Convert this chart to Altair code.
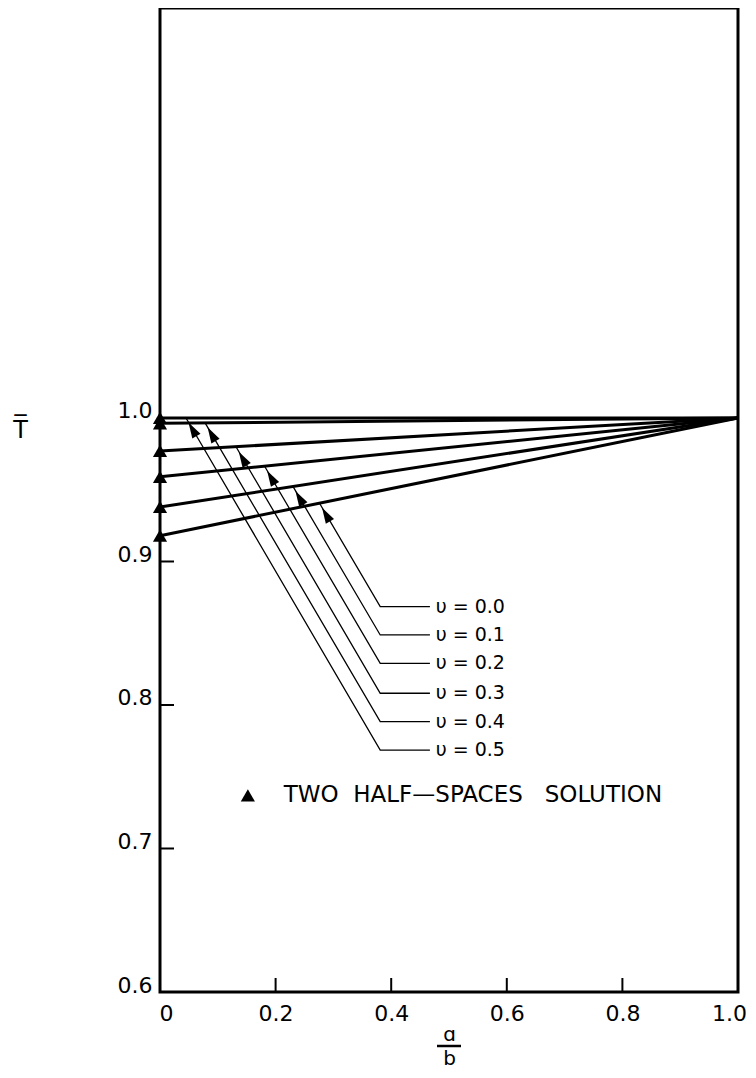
import altair as alt
import pandas as pd

# ---- data ----
nu_labels = ["υ = 0.0", "υ = 0.1", "υ = 0.2", "υ = 0.3", "υ = 0.4", "υ = 0.5"]
t_at_zero = [0.918, 0.938, 0.959, 0.977, 0.9963, 1.000]   # T at a/b = 0
t_at_one = [1.0, 1.0, 1.0, 1.0, 1.0, 1.0]                 # T at a/b = 1
ab_ends = [0.0, 1.0]

# leader annotations (data coordinates)
leader_tip_ab = [0.276, 0.230, 0.181, 0.132, 0.078, 0.045]
leader_tip_t = [0.9406, 0.9523, 0.9664, 0.9796, 0.9966, 1.000]
leader_bend_ab = [0.381] * 6
leader_end_ab = [0.467] * 6
label_t = [0.8685, 0.8488, 0.829, 0.8082, 0.7884, 0.7686]
label_ab = [0.477] * 6

legend_ab = [0.152]
legend_text_ab = [0.214]
legend_t = [0.737]
legend_text = ["TWO\u00a0\u00a0HALF\u2014SPACES\u00a0\u00a0\u00a0SOLUTION"]

x_ticks = [0.0, 0.2, 0.4, 0.6, 0.8, 1.0]
y_ticks = [0.6, 0.7, 0.8, 0.9, 1.0]
x_inner_ticks = [0.2, 0.4, 0.6, 0.8]
y_inner_ticks = [0.7, 0.8, 0.9]

W, H = 578, 984
FONT = "DejaVu Sans"

# ---- tables ----
lines_rows = []
for i, nu in enumerate(nu_labels):
    lines_rows.append({"nu": nu, "ab": ab_ends[0], "T": t_at_zero[i], "o": 0})
    lines_rows.append({"nu": nu, "ab": ab_ends[1], "T": t_at_one[i], "o": 1})
lines_df = pd.DataFrame(lines_rows)
start_df = pd.DataFrame({"nu": nu_labels, "ab": [0.0] * 6, "T": t_at_zero})

leader_rows = []
for i, nu in enumerate(nu_labels):
    leader_rows.append({"nu": nu, "ab": leader_tip_ab[i], "T": leader_tip_t[i], "o": 0})
    leader_rows.append({"nu": nu, "ab": leader_bend_ab[i], "T": label_t[i], "o": 1})
    leader_rows.append({"nu": nu, "ab": leader_end_ab[i], "T": label_t[i], "o": 2})
leader_df = pd.DataFrame(leader_rows)
tips_df = pd.DataFrame({"nu": nu_labels, "ab": leader_tip_ab, "T": leader_tip_t})
labels_df = pd.DataFrame({"nu": nu_labels, "ab": label_ab, "T": label_t})
legend_df = pd.DataFrame({"ab": legend_ab, "abt": legend_text_ab, "T": legend_t, "txt": legend_text})
xt_df = pd.DataFrame({"ab": x_inner_ticks})
yt_df = pd.DataFrame({"T": y_inner_ticks})

xscale = alt.Scale(domain=[0, 1], nice=False, zero=False)
yscale = alt.Scale(domain=[0.6, 1.2857], nice=False, zero=False)

xaxis = alt.Axis(
    values=x_ticks, labelExpr="datum.value == 0 ? '0' : format(datum.value, '.1f')",
    ticks=False, domain=False, grid=False, labelFont=FONT, labelFontSize=22,
    labelColor="black", labelPadding=11, labelFlush=False, labelOverlap=False,
    labelOffset={"condition": [{"test": "datum.value == 0", "value": 6},
                               {"test": "datum.value == 1", "value": -9}],
                 "value": 0},
    title=["\u0251", "b"], titleFont=FONT, titleFontSize=20,
    titleFontWeight="normal", titleColor="black", titleLineHeight=24,
    titlePadding=0,
)
yaxis = alt.Axis(
    values=y_ticks, format=".1f", ticks=False, domain=False, grid=False,
    labelFont=FONT, labelFontSize=22, labelColor="black", labelPadding=8,
    labelFlush=False, labelOverlap=False, labelBaseline="alphabetic",
    title="T\u0305", titleFont=FONT, titleFontSize=24, titleFontWeight="normal",
    titleColor="black", titleAngle=0, titleX=-140, titleY=422,
    titleAlign="center", titleBaseline="middle",
)

X = alt.X("ab:Q", scale=xscale, axis=xaxis)
Y = alt.Y("T:Q", scale=yscale, axis=yaxis)

lines = alt.Chart(lines_df).mark_line(color="black", strokeWidth=3).encode(
    x=X, y=Y, detail="nu:N", order="o:Q")

starts = alt.Chart(start_df).mark_point(
    shape="triangle-up", filled=True, color="black", opacity=1, size=200
).encode(x="ab:Q", y="T:Q")

leaders = alt.Chart(leader_df).mark_line(color="black", strokeWidth=1.3).encode(
    x="ab:Q", y="T:Q", detail="nu:N", order="o:Q")

arrows = alt.Chart(tips_df).mark_point(
    shape="M0,0L-0.3,1L0.3,1Z", filled=True, color="black", opacity=1,
    size=1000, angle=330, xOffset=2.5, yOffset=4.5
).encode(x="ab:Q", y="T:Q")

labels = alt.Chart(labels_df).mark_text(
    align="left", baseline="middle", font=FONT, fontSize=19, color="black"
).encode(x="ab:Q", y="T:Q", text="nu:N")

legend_marker = alt.Chart(legend_df).mark_point(
    shape="triangle-up", filled=True, color="black", opacity=1, size=200
).encode(x="ab:Q", y="T:Q")

legend_label = alt.Chart(legend_df).mark_text(
    align="left", baseline="middle", font=FONT, fontSize=23, color="black"
).encode(x="abt:Q", y="T:Q", text="txt:N")

xticks = alt.Chart(xt_df).mark_rule(color="black", strokeWidth=2).encode(
    x="ab:Q", y=alt.value(H - 14), y2=alt.value(H))
yticks = alt.Chart(yt_df).mark_rule(color="black", strokeWidth=2).encode(
    y="T:Q", x=alt.value(0), x2=alt.value(14))

# fraction bar of the x-axis title (a over b)
frac_bar = alt.Chart(pd.DataFrame({"k": [0]})).mark_rule(color="black", strokeWidth=2.5).encode(
    x=alt.value(W / 2 - 12), x2=alt.value(W / 2 + 12), y=alt.value(H + 54))

chart = alt.layer(
    lines, leaders, arrows, starts, labels, legend_marker, legend_label,
    xticks, yticks, frac_bar
).properties(
    width=W, height=H,
    padding={"left": 152, "top": 0, "right": 10, "bottom": 78},
    autosize=alt.AutoSizeParams(type="none"),
    background="white",
).configure_view(stroke="black", strokeWidth=3)

chart.save("out.html", embed_options={"renderer": "svg", "actions": False})
